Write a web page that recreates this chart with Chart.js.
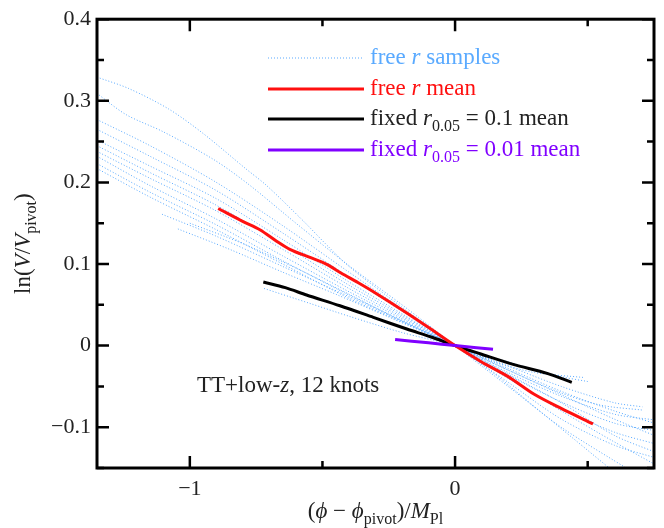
<!DOCTYPE html>
<html>
<head>
<meta charset="utf-8">
<script src="https://cdn.jsdelivr.net/npm/chart.js@4.4.0/dist/chart.umd.min.js"></script>
<style>
  html, body { margin: 0; padding: 0; background: #fff; }
  #wrap { width: 664px; height: 528px; }
</style>
</head>
<body>
<div id="wrap"><canvas id="potential"></canvas></div>
<script>
// axis ranges and tick spacing
const xRange = [-1.35, 0.75]
const yRange = [-0.15, 0.4]
const xTickStep = 0.5
const yTickStep = 0.05

// mean reconstructions, [ (phi - phi_pivot)/M_Pl , ln(V/V_pivot) ]
const freeMean = [[-0.893, 0.168], [-0.799, 0.152], [-0.736, 0.142], [-0.673, 0.128], [-0.623, 0.118],
  [-0.547, 0.108], [-0.484, 0.0996], [-0.43, 0.089], [-0.365, 0.077], [-0.308, 0.066], [-0.182, 0.04],
  [-0.09, 0.02], [0, 0], [0.1, -0.02], [0.2, -0.038], [0.3, -0.06], [0.4, -0.077], [0.52, -0.096]]
const fixed01Mean = [[-0.723, 0.078], [-0.64, 0.071], [-0.56, 0.062], [-0.434, 0.0488], [-0.308, 0.0346],
  [-0.182, 0.0203], [-0.09, 0.0105], [0, 0], [0.094, -0.010], [0.219, -0.023], [0.347, -0.034], [0.44, -0.045]]
const fixed001Mean = [[-0.226, 0.0075], [-0.1, 0.0034], [0, 0], [0.143, -0.0046]]

// free r samples
const sample01 = [[-1.35, 0.329], [-1.23, 0.315], [-1.08, 0.29], [-0.95, 0.26], [-0.79, 0.217], [-0.71, 0.196],
  [-0.57, 0.152], [-0.48, 0.122], [-0.4, 0.097], [-0.2, 0.047], [0, 0], [0.15, -0.035], [0.3, -0.075], [0.45, -0.115], [0.6, -0.155]]
const sample02 = [[-1.35, 0.309], [-1.24, 0.283], [-1.1, 0.262], [-0.91, 0.228], [-0.78, 0.198], [-0.6, 0.15],
  [-0.4, 0.098], [-0.2, 0.05], [0, 0], [0.2, -0.05], [0.4, -0.1], [0.67, -0.155]]
const sample03 = [[-1.35, 0.277], [-1.15, 0.245], [-0.9, 0.2], [-0.65, 0.147], [-0.4, 0.09], [-0.2, 0.045],
  [0, 0], [0.2, -0.045], [0.4, -0.09], [0.6, -0.122], [0.75, -0.137]]
const sample04 = [[-1.35, 0.265], [-1.15, 0.232], [-0.9, 0.19], [-0.65, 0.138], [-0.4, 0.084], [-0.2, 0.042],
  [0, 0], [0.2, -0.04], [0.4, -0.077], [0.6, -0.106], [0.75, -0.12]]
const sample05 = [[-1.35, 0.252], [-1.15, 0.22], [-0.9, 0.18], [-0.65, 0.13], [-0.4, 0.078], [-0.2, 0.039],
  [0, 0], [0.2, -0.036], [0.4, -0.069], [0.6, -0.095], [0.75, -0.104]]
const sample06 = [[-1.35, 0.238], [-1.15, 0.205], [-0.9, 0.165], [-0.65, 0.118], [-0.4, 0.07], [-0.2, 0.035],
  [0, 0], [0.2, -0.033], [0.4, -0.062], [0.6, -0.084], [0.75, -0.091]]
const sample07 = [[-1.35, 0.232], [-1.15, 0.196], [-0.9, 0.155], [-0.65, 0.11], [-0.4, 0.066], [-0.2, 0.033],
  [0, 0], [0.2, -0.03], [0.4, -0.058], [0.55, -0.073], [0.706, -0.079]]
const sample08 = [[-1.35, 0.223], [-1.15, 0.188], [-0.9, 0.148], [-0.65, 0.104], [-0.4, 0.062], [-0.2, 0.031],
  [0, 0], [0.2, -0.028], [0.4, -0.056], [0.6, -0.08], [0.75, -0.095]]
const sample09 = [[-1.35, 0.217], [-1.15, 0.182], [-0.9, 0.142], [-0.65, 0.1], [-0.4, 0.058], [-0.2, 0.029],
  [0, 0], [0.2, -0.035], [0.4, -0.07], [0.6, -0.11], [0.75, -0.13]]
const sample10 = [[-1.105, 0.161], [-0.9, 0.134], [-0.65, 0.097], [-0.4, 0.06], [-0.2, 0.03],
  [0, 0], [0.15, -0.02], [0.3, -0.033], [0.483, -0.039]]
const sample11 = [[-1.045, 0.143], [-0.85, 0.118], [-0.65, 0.09], [-0.45, 0.063], [-0.25, 0.035], [0, 0],
  [0.2, -0.025], [0.4, -0.05], [0.6, -0.07], [0.706, -0.075]]
const sample12 = [[-0.72, 0.07], [-0.55, 0.052], [-0.4, 0.036], [-0.2, 0.016], [0, 0], [0.2, -0.02],
  [0.4, -0.038], [0.5, -0.044]]
const sample13 = [[-1.35, 0.245], [-1.15, 0.212], [-0.9, 0.172], [-0.65, 0.124], [-0.4, 0.074], [-0.2, 0.037],
  [0, 0], [0.2, -0.04], [0.4, -0.08], [0.6, -0.118], [0.75, -0.145]]
const sample14 = [[-1.0, 0.15], [-0.8, 0.125], [-0.6, 0.095], [-0.4, 0.063], [-0.2, 0.03], [0, 0],
  [0.2, -0.03], [0.4, -0.06], [0.6, -0.09], [0.75, -0.11]]

const samples = [sample01, sample02, sample03, sample04, sample05, sample06, sample07,
  sample08, sample09, sample10, sample11, sample12, sample13, sample14]

const SERIF = '"Liberation Serif", "DejaVu Serif", serif'
const BLUE = "#5aaaff"
const RED = "#ff1010"
const PURPLE = "#8000ff"

const toXY = (pairs) => pairs.map(([x, y]) => ({ x, y }))
const isWhole = (v, step) => Math.abs(v / step - Math.round(v / step)) < 1e-6
const fmt = (v, digits) => (Math.abs(v) < 1e-9 ? "0" : v.toFixed(digits).replace("-", "\u2212"))

// text with italic / subscript pieces
function setFont(ctx, style, size) {
  const sub = style === "sub"
  ctx.font = `${style === "it" ? "italic " : ""}${sub ? Math.round(size * 0.7) : size}px ${SERIF}`
  return sub
}

function richWidth(ctx, parts, size) {
  let w = 0
  parts.forEach(([text, style]) => {
    setFont(ctx, style, size)
    w += ctx.measureText(text).width
  })
  return w
}

function drawRich(ctx, parts, x, y, size, color) {
  let cx = x
  ctx.fillStyle = color
  ctx.textBaseline = "alphabetic"
  ctx.textAlign = "left"
  parts.forEach(([text, style]) => {
    const sub = setFont(ctx, style, size)
    ctx.fillText(text, cx, y + (sub ? size * 0.25 : 0))
    cx += ctx.measureText(text).width
  })
}

const frameTicks = {
  id: "frameTicks",
  afterDraw(chart) {
    const { ctx, chartArea: a, scales } = chart
    ctx.save()
    ctx.strokeStyle = "#000"
    ctx.lineWidth = 2.5
    ctx.beginPath()
    scales.x.ticks.forEach((t) => {
      const px = scales.x.getPixelForValue(t.value)
      const len = isWhole(t.value, 1) ? 12 : 7
      ctx.moveTo(px, a.bottom); ctx.lineTo(px, a.bottom - len)
      ctx.moveTo(px, a.top); ctx.lineTo(px, a.top + len)
    })
    scales.y.ticks.forEach((t) => {
      const py = scales.y.getPixelForValue(t.value)
      const len = isWhole(t.value, 0.1) ? 12 : 7
      ctx.moveTo(a.left, py); ctx.lineTo(a.left + len, py)
      ctx.moveTo(a.right, py); ctx.lineTo(a.right - len, py)
    })
    ctx.stroke()
    ctx.lineWidth = 3
    ctx.strokeRect(a.left, a.top, a.right - a.left, a.bottom - a.top)
    ctx.restore()
  },
}

const labels = {
  id: "labels",
  afterDraw(chart) {
    const { ctx, chartArea: a } = chart
    ctx.save()

    // x axis title
    const xTitle = [["(", ""], ["\u03d5", "it"], [" \u2212 ", ""], ["\u03d5", "it"], ["pivot", "sub"], [")/", ""], ["M", "it"], ["Pl", "sub"]]
    const xw = richWidth(ctx, xTitle, 23)
    drawRich(ctx, xTitle, (a.left + a.right) / 2 - xw / 2, 518, 23, "#222")

    // y axis title
    const yTitle = [["ln(", ""], ["V", "it"], ["/", ""], ["V", "it"], ["pivot", "sub"], [")", ""]]
    const yw = richWidth(ctx, yTitle, 23)
    ctx.save()
    ctx.translate(30, (a.top + a.bottom) / 2)
    ctx.rotate(-Math.PI / 2)
    drawRich(ctx, yTitle, -yw / 2, 0, 23, "#222")
    ctx.restore()

    // legend
    const legend = [
      { color: BLUE, dash: [1, 2], width: 1.2, y: 58, text: [["free ", ""], ["r", "it"], [" samples", ""]] },
      { color: RED, dash: [], width: 3, y: 89, text: [["free ", ""], ["r", "it"], [" mean", ""]] },
      { color: "#000", dash: [], width: 3, y: 119, text: [["fixed ", ""], ["r", "it"], ["0.05", "sub"], [" = 0.1 mean", ""]] },
      { color: PURPLE, dash: [], width: 3, y: 150, text: [["fixed ", ""], ["r", "it"], ["0.05", "sub"], [" = 0.01 mean", ""]] },
    ]
    legend.forEach((item) => {
      ctx.beginPath()
      ctx.strokeStyle = item.color
      ctx.lineWidth = item.width
      ctx.setLineDash(item.dash)
      ctx.moveTo(268, item.y)
      ctx.lineTo(364, item.y)
      ctx.stroke()
      ctx.setLineDash([])
      drawRich(ctx, item.text, 370, item.y + 6, 23, item.color === "#000" ? "#222" : item.color)
    })

    // annotation
    drawRich(ctx, [["TT+low-", ""], ["z", "it"], [", 12 knots", ""]], 197, 392, 23, "#222")
    ctx.restore()
  },
}

const sampleSets = samples.map((s, i) => ({
  label: "sample " + (i + 1),
  data: toXY(s),
  borderColor: BLUE,
  borderWidth: 1,
  borderDash: [1, 2],
  order: 10,
}))

new Chart(document.getElementById("potential"), {
  type: "line",
  data: {
    datasets: [
      { label: "fixed r0.05 = 0.01 mean", data: toXY(fixed001Mean), borderColor: PURPLE, borderWidth: 3, order: 0 },
      { label: "free r mean", data: toXY(freeMean), borderColor: RED, borderWidth: 3, order: 1 },
      { label: "fixed r0.05 = 0.1 mean", data: toXY(fixed01Mean), borderColor: "#000", borderWidth: 3, order: 2 },
      ...sampleSets,
    ],
  },
  options: {
    responsive: true,
    maintainAspectRatio: false,
    animation: false,
    events: [],
    layout: { padding: { left: 0, right: 10, top: 17, bottom: 0 }, autoPadding: false },
    elements: {
      point: { radius: 0 },
      line: { tension: 0.3, fill: false, borderCapStyle: "butt" },
    },
    plugins: { legend: { display: false }, tooltip: { enabled: false } },
    scales: {
      x: {
        type: "linear",
        min: xRange[0],
        max: xRange[1],
        afterFit: (s) => { s.height = 60 },
        grid: { display: false, drawTicks: false },
        border: { display: false },
        ticks: {
          stepSize: xTickStep,
          includeBounds: false,
          autoSkip: false,
          maxRotation: 0,
          padding: 8,
          color: "#222",
          font: { family: SERIF, size: 22 },
          callback: (v) => (isWhole(v, 1) ? fmt(v, 0) : ""),
        },
      },
      y: {
        type: "linear",
        min: yRange[0],
        max: yRange[1],
        afterFit: (s) => { s.width = 97 },
        grid: { display: false, drawTicks: false },
        border: { display: false },
        ticks: {
          stepSize: yTickStep,
          includeBounds: false,
          autoSkip: false,
          padding: 6,
          color: "#222",
          font: { family: SERIF, size: 22 },
          callback: (v) => (isWhole(v, 0.1) ? fmt(v, 1) : ""),
        },
      },
    },
  },
  plugins: [frameTicks, labels],
})
</script>
</body>
</html>
